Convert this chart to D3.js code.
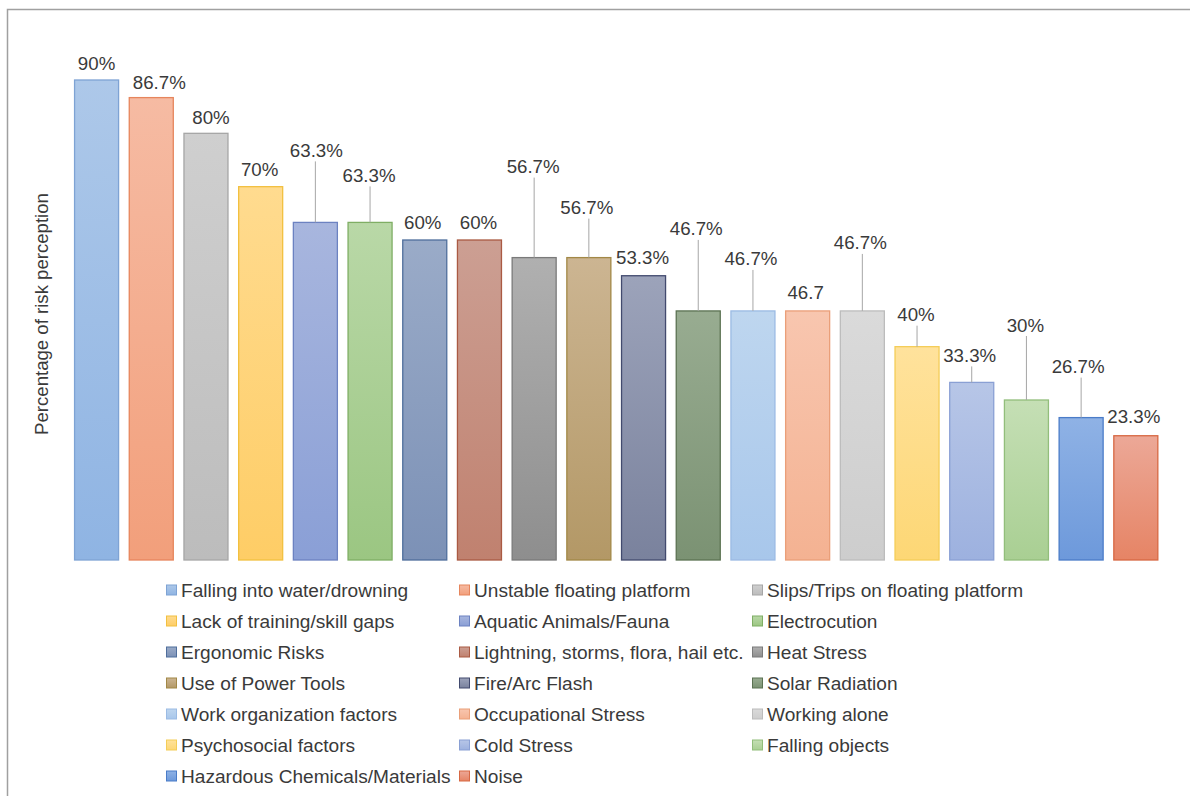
<!DOCTYPE html>
<html>
<head>
<meta charset="utf-8">
<script src="https://cdn.jsdelivr.net/npm/d3@7"></script>
<style>
  body { margin: 0; background: #fff; }
  text { font-family: "Liberation Sans", Arial, sans-serif; }
</style>
</head>
<body>
<svg id="chart"></svg>
<script>
const categories = [
    'Falling into water/drowning', 'Unstable floating platform', 'Slips/Trips on floating platform',
    'Lack of training/skill gaps', 'Aquatic Animals/Fauna', 'Electrocution',
    'Ergonomic Risks', 'Lightning, storms, flora, hail etc.', 'Heat Stress',
    'Use of Power Tools', 'Fire/Arc Flash', 'Solar Radiation',
    'Work organization factors', 'Occupational Stress', 'Working alone',
    'Psychosocial factors', 'Cold Stress', 'Falling objects',
    'Hazardous Chemicals/Materials', 'Noise'
];
const values = [90, 86.7, 80, 70, 63.3, 63.3, 60, 60, 56.7, 56.7, 53.3, 46.7, 46.7, 46.7, 46.7, 40, 33.3, 30, 26.7, 23.3];
const valueLabels = ['90%', '86.7%', '80%', '70%', '63.3%', '63.3%', '60%', '60%', '56.7%', '56.7%',
    '53.3%', '46.7%', '46.7%', '46.7', '46.7%', '40%', '33.3%', '30%', '26.7%', '23.3%'];

// fills: [top, bottom, stroke]
const colors = [
    ['#adc8e9', '#8fb4e3', '#7ea3d4'],
    ['#f6bba3', '#f29f7b', '#e6855c'],
    ['#cfcfcf', '#bcbcbc', '#a6a6a6'],
    ['#ffdb8f', '#fecd66', '#f2c040'],
    ['#a8b6de', '#8a9fd6', '#6c82c1'],
    ['#b9d8a7', '#9bc682', '#7fae64'],
    ['#9aabc8', '#7c91b6', '#4f6e9c'],
    ['#cc9f93', '#c0816f', '#aa5a43'],
    ['#b0b0b0', '#8e8e8e', '#7a7a7a'],
    ['#ccb592', '#b39866', '#a28846'],
    ['#9ca3ba', '#7a829d', '#424a6e'],
    ['#98ac91', '#7b9273', '#5b7252'],
    ['#bed6ef', '#a8c7eb', '#9bbbe4'],
    ['#f8c6af', '#f4b292', '#ea9f79'],
    ['#dadada', '#cdcdcd', '#bcbcbc'],
    ['#ffe29c', '#fdd775', '#f4cd58'],
    ['#b7c6e7', '#9db1df', '#8aa0d4'],
    ['#c5dfb5', '#a9cf93', '#92be7b'],
    ['#8fb2e5', '#6d99db', '#4a7cc8'],
    ['#eca897', '#e68465', '#d76843']
];

// label placement relative to bar top (px): [dx, lift]
const labelPos = [
    [0, 17], [8, 15], [5, 16], [-1, 17], [1, 72], [-1, 47], [-2, 18], [-1, 18], [-1, 91], [-2, 50],
    [-1, 18], [-2, 82], [-2, 52], [-2, 18], [-2, 68], [-1, 32], [-2, 27], [-1, 75], [-3, 51], [-2, 19]
];

const W = 1190, H = 796;
const svg = d3.select('#chart').attr('width', W).attr('height', H);

// frame
svg.append('path')
    .attr('d', `M7.5,${H + 2} L7.5,9.5 L${W + 2},9.5`)
    .attr('fill', 'none')
    .attr('stroke', '#a0a0a0')
    .attr('stroke-width', 1.5);

const x = d3.scaleBand()
    .domain(categories)
    .range([69.2, 1163.2])
    .paddingInner(0.177)
    .paddingOuter(0.089);

const y = d3.scaleLinear()
    .domain([0, 90])
    .range([560, 80]);

const defs = svg.append('defs');
colors.forEach((c, i) => {
    const g = defs.append('linearGradient')
        .attr('id', 'g' + i)
        .attr('x1', 0).attr('y1', 0).attr('x2', 0).attr('y2', 1);
    g.append('stop').attr('offset', '0%').attr('stop-color', c[0]);
    g.append('stop').attr('offset', '100%').attr('stop-color', c[1]);
});

const data = categories.map((c, i) => ({ cat: c, value: values[i], label: valueLabels[i], i: i }));

svg.append('g').selectAll('rect')
    .data(data)
    .enter()
    .append('rect')
    .attr('x', d => x(d.cat) + 0.5)
    .attr('y', d => y(d.value))
    .attr('width', x.bandwidth() - 1)
    .attr('height', d => y(0) - y(d.value))
    .attr('fill', d => `url(#g${d.i})`)
    .attr('stroke', d => colors[d.i][2])
    .attr('stroke-width', 1.3);

// leader lines
svg.append('g').selectAll('line')
    .data(data.filter(d => labelPos[d.i][1] > 25))
    .enter()
    .append('line')
    .attr('x1', d => x(d.cat) + x.bandwidth() / 2)
    .attr('x2', d => x(d.cat) + x.bandwidth() / 2)
    .attr('y1', d => y(d.value))
    .attr('y2', d => y(d.value) - labelPos[d.i][1] + 11)
    .attr('stroke', '#a6a6a6')
    .attr('stroke-width', 1);

svg.append('g').selectAll('text')
    .data(data)
    .enter()
    .append('text')
    .attr('x', d => x(d.cat) + x.bandwidth() / 2 + labelPos[d.i][0])
    .attr('y', d => y(d.value) - labelPos[d.i][1])
    .attr('dy', '0.35em')
    .attr('text-anchor', 'middle')
    .attr('fill', '#3a3a3a')
    .style('font-size', '18.7px')
    .text(d => d.label);

// y axis title
svg.append('text')
    .attr('transform', 'translate(48,314) rotate(-90)')
    .attr('text-anchor', 'middle')
    .attr('fill', '#3a3a3a')
    .style('font-size', '18.6px')
    .text('Percentage of risk perception');

// legend
const colX = [166, 459, 752];
const legend = svg.append('g').selectAll('g')
    .data(data)
    .enter()
    .append('g')
    .attr('transform', d => `translate(${colX[d.i % 3]}, ${590 + Math.floor(d.i / 3) * 31})`);

legend.append('rect')
    .attr('x', 0.5).attr('y', -5)
    .attr('width', 10).attr('height', 10)
    .attr('fill', d => `url(#g${d.i})`)
    .attr('stroke', d => colors[d.i][2])
    .attr('stroke-width', 1);

legend.append('text')
    .attr('x', 15)
    .attr('dy', '0.35em')
    .attr('fill', '#3a3a3a')
    .style('font-size', '19.1px')
    .text(d => d.cat);
</script>
</body>
</html>
